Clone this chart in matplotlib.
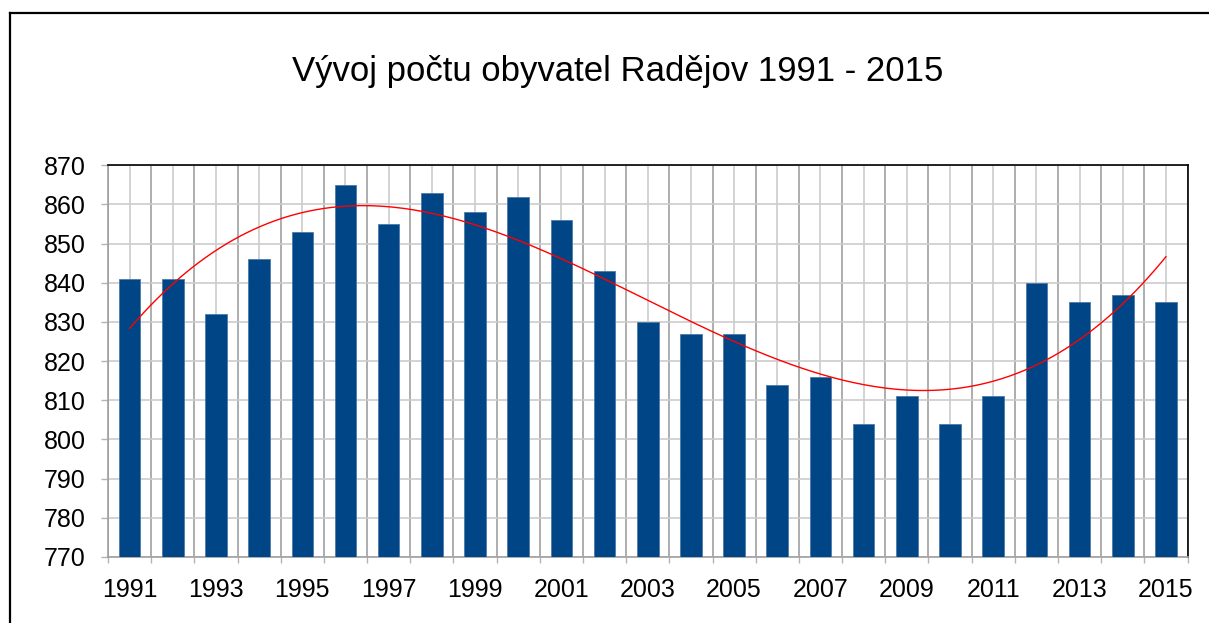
import numpy as np
import matplotlib
matplotlib.use("Agg")
import matplotlib.pyplot as plt
from matplotlib.lines import Line2D
from matplotlib.ticker import FixedLocator, NullFormatter, FixedFormatter

years = list(range(1991, 2016))
population = [841, 841, 832, 846, 853, 865, 855, 863, 858, 862,
              856, 843, 830, 827, 827, 814, 816, 804, 811, 804,
              811, 840, 835, 837, 835]
title = "Vývoj počtu obyvatel Radějov 1991 - 2015"

plt.rcParams['font.family'] = ['Liberation Sans', 'DejaVu Sans']

W, H = 1209, 623
fig = plt.figure(figsize=(W / 100, H / 100), dpi=100)
ax = fig.add_axes([108 / W, 1 - 557 / H, (1187.5 - 108) / W, (557 - 165.3) / H])

x = np.arange(len(years))
base = 770
ax.bar(x, [v - base for v in population], width=0.5, bottom=base, color='#004586',
       edgecolor='#4d7aa8', linewidth=0.6, zorder=3)

# cubic trend line fitted to the data
coef = np.polyfit(x, population, 3)
xs = np.linspace(0, len(years) - 1, 300)
ax.plot(xs, np.polyval(coef, xs), color='#ff0000', lw=1.0, zorder=4)

ax.set_xlim(-0.5, len(years) - 0.5)
ax.set_ylim(770, 870)
ax.set_yticks(np.arange(770, 871, 10))

# boundaries: tick marks + darker grid; centers: labels + lighter grid
ax.xaxis.set_major_locator(FixedLocator(np.arange(-0.5, len(years), 1.0)))
ax.xaxis.set_major_formatter(NullFormatter())
ax.xaxis.set_minor_locator(FixedLocator(x))
ax.xaxis.set_minor_formatter(FixedFormatter(
    [str(y) if i % 2 == 0 else "" for i, y in enumerate(years)]))
ax.tick_params(axis='x', which='major', length=4.5, color='#b3b3b3', width=1)
ax.tick_params(axis='x', which='minor', length=0, pad=15, labelsize=18)
ax.tick_params(axis='y', length=5, color='#b3b3b3', width=1, pad=11, labelsize=18)

ax.grid(axis='x', which='major', color='#a0a0a0', lw=1.2, zorder=0)
ax.grid(axis='x', which='minor', color='#cccccc', lw=1.2, zorder=0)
ax.grid(axis='y', color='#cccccc', lw=1.2, zorder=0)
ax.set_axisbelow(True)

for s in ['left', 'bottom']:
    ax.spines[s].set_color('#a0a0a0')
    ax.spines[s].set_linewidth(1.2)
for s in ['top', 'right']:
    ax.spines[s].set_color('black')
    ax.spines[s].set_linewidth(1.2)

fig.text(617.5 / W, 1 - 72 / H, title, ha='center', va='center', fontsize=25)

# outer frame (left and top edges visible)
fig.add_artist(Line2D([10 / W, 10 / W], [0, 1 - 12.5 / H], transform=fig.transFigure,
                      color='black', lw=1.6))
fig.add_artist(Line2D([10 / W, 1], [1 - 12.5 / H, 1 - 12.5 / H], transform=fig.transFigure,
                      color='black', lw=1.6))

fig.savefig("out.png", dpi=100)
